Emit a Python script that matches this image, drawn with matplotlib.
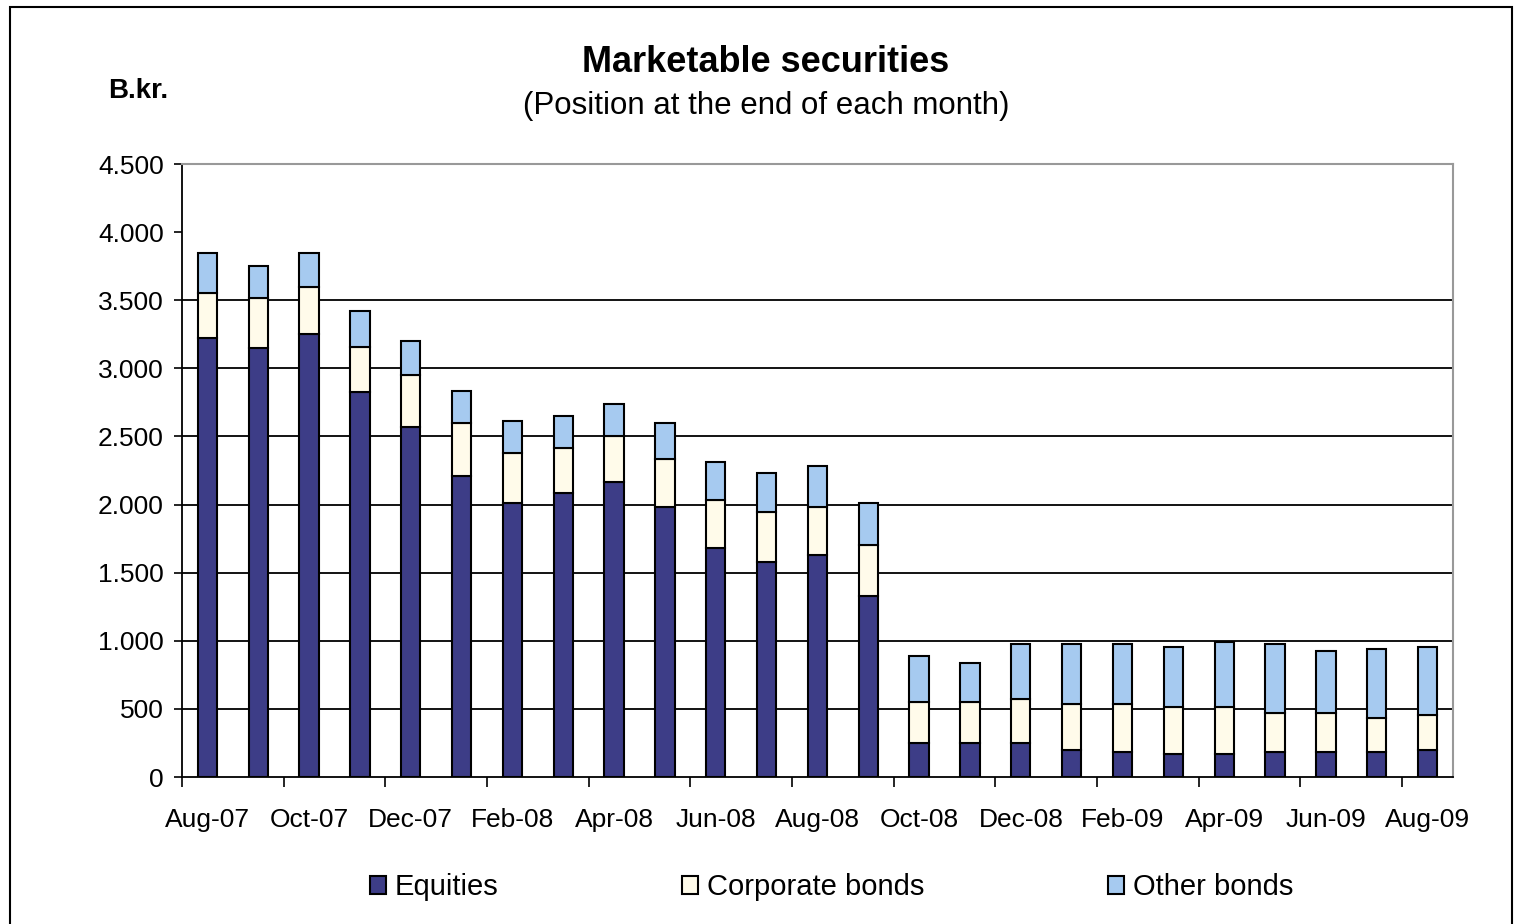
import numpy as np
import matplotlib.pyplot as plt
from matplotlib.patches import Rectangle

# Data (B.kr., position at end of month)
months = ['Aug-07', 'Sep-07', 'Oct-07', 'Nov-07', 'Dec-07', 'Jan-08', 'Feb-08',
          'Mar-08', 'Apr-08', 'May-08', 'Jun-08', 'Jul-08', 'Aug-08', 'Sep-08',
          'Oct-08', 'Nov-08', 'Dec-08', 'Jan-09', 'Feb-09', 'Mar-09', 'Apr-09',
          'May-09', 'Jun-09', 'Jul-09', 'Aug-09']
equities = [3220, 3150, 3250, 2830, 2570, 2210, 2010, 2085, 2165, 1980, 1680, 1580,
            1630, 1330, 250, 250, 250, 200, 185, 170, 170, 185, 185, 185, 200]
corporate = [330, 370, 350, 330, 380, 390, 370, 330, 340, 355, 355, 365,
             350, 375, 300, 300, 320, 340, 350, 345, 345, 285, 285, 250, 255]
other = [300, 235, 250, 260, 250, 235, 235, 235, 235, 265, 280, 285,
         300, 310, 340, 290, 410, 440, 440, 440, 475, 505, 455, 505, 500]
yticks = [0, 500, 1000, 1500, 2000, 2500, 3000, 3500, 4000, 4500]

plt.rcParams['font.family'] = ['Liberation Sans', 'DejaVu Sans']

c_eq = '#3d3d87'
c_corp = '#fffbea'
c_oth = '#a6caf0'

fig = plt.figure(figsize=(15.23, 9.24), dpi=100)
ax = fig.add_axes([0.1195, 0.159, 0.8345, 0.6635])

x = np.arange(len(months))
w = 0.38
eq = np.array(equities)
cb = np.array(corporate)
ob = np.array(other)
ax.bar(x, eq, w, color=c_eq, edgecolor='black', linewidth=1.5, label='Equities', zorder=3)
ax.bar(x, cb, w, bottom=eq, color=c_corp, edgecolor='black', linewidth=1.5,
       label='Corporate bonds', zorder=3)
ax.bar(x, ob, w, bottom=eq + cb, color=c_oth, edgecolor='black', linewidth=1.5,
       label='Other bonds', zorder=3)

# gridlines (none at 4000 in the original)
for v in yticks:
    if 0 < v < 4000:
        ax.axhline(v, color='black', linewidth=1.3, zorder=1)

ax.set_xlim(-0.5, len(months) - 0.5)
ax.set_ylim(0, 4500)
ax.set_yticks(yticks)
ax.set_yticklabels([f'{v:,}'.replace(',', '.') for v in yticks], fontsize=19)
ax.tick_params(axis='y', length=6, width=1.2, pad=7)

ax.set_xticks(x[::2])
ax.set_xticklabels(months[::2], fontsize=19)
ax.set_xticks(np.arange(-0.5, len(months) - 1, 2), minor=True)
ax.tick_params(axis='x', which='major', length=0, pad=22)
ax.tick_params(axis='x', which='minor', length=7, width=1.2)

for s in ['left', 'bottom']:
    ax.spines[s].set_color('black')
    ax.spines[s].set_linewidth(1.3)
for s in ['top', 'right']:
    ax.spines[s].set_color('#999999')
    ax.spines[s].set_linewidth(1.5)

fig.text(0.503, 0.932, 'Marketable securities', fontsize=26, fontweight='bold',
         ha='center', va='center')
fig.text(0.503, 0.885, '(Position at the end of each month)', fontsize=22.5,
         ha='center', va='center')
fig.text(0.0906, 0.902, 'B.kr.', fontsize=20, fontweight='bold', ha='center', va='center')

fig.legend(loc='center', bbox_to_anchor=(0.546, 0.04), ncol=3, frameon=False,
           fontsize=21, handlelength=0.55, handleheight=0.55, handletextpad=0.3,
           columnspacing=6.3)

fig.patches.append(Rectangle((10 / 1523, -0.05), 1502 / 1523, 1 - 7 / 924 + 0.05,
                             transform=fig.transFigure, fill=False,
                             edgecolor='black', linewidth=1.5))

fig.savefig('out.png', dpi=100)
